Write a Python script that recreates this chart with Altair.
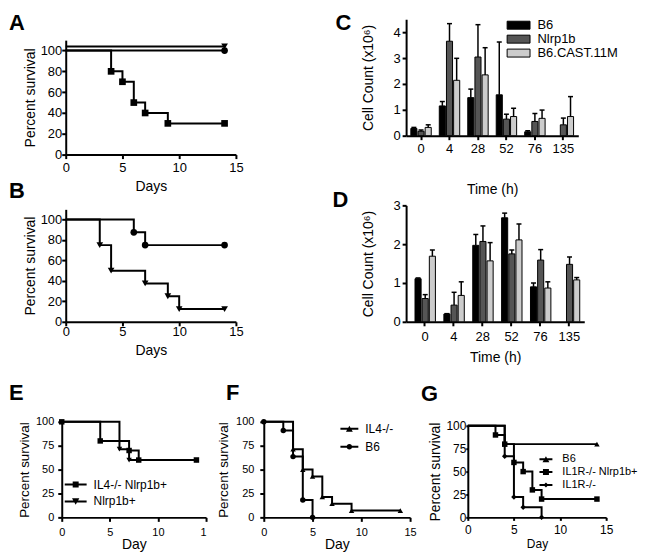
import altair as alt
import pandas as pd

FONT = "Liberation Sans"

# ---------------- data ----------------
# Panel A: percent survival vs days
a_names = ["A-sq", "A-ci", "A-tr"]
a_t1 = [0, 4, 5, 6, 7, 9, 14]
a_s1 = [100, 80, 70, 50, 40, 30, 30]
a_t2 = [0, 14]
a_s2 = [100, 100]
a_t3 = [0, 14]
a_s3 = [104, 104]

# Panel B
b_names = ["B-ci", "B-tr"]
b_t1 = [0, 6, 7, 14]
b_s1 = [100, 87.5, 75, 75]
b_t2 = [0, 3, 4, 7, 9, 10, 14]
b_s2 = [100, 75, 50, 37.5, 25, 12.5, 12.5]

# Panel C / D: cell counts (x10^6)
times = ["0", "4", "28", "52", "76", "135"]
bar_names = ["B6", "Nlrp1b", "B6.CAST.11M"]
bar_colors = ["#000000", "#555555", "#cccccc"]
c_b6 = [0.28, 1.15, 1.47, 1.58, 0.15, None]
c_b6_err = [0.32, 1.32, 1.80, 3.62, 0.19, None]
c_nl = [0.17, 3.65, 3.04, 0.64, 0.55, 0.42]
c_nl_err = [0.22, 4.33, 4.29, 0.83, 0.86, 0.68]
c_ca = [0.32, 2.14, 2.35, 0.74, 0.67, 0.74]
c_ca_err = [0.42, 2.99, 3.40, 1.06, 0.99, 1.51]

d_b6 = [1.11, 0.20, 1.97, 2.68, 0.90, None]
d_b6_err = [1.13, 0.21, 2.25, 2.80, 1.00, None]
d_nl = [0.60, 0.43, 2.07, 1.75, 1.59, 1.48]
d_nl_err = [0.70, 0.76, 2.47, 1.85, 1.86, 1.67]
d_ca = [1.69, 0.68, 1.57, 2.11, 0.87, 1.08]
d_ca_err = [1.85, 1.03, 2.04, 2.52, 1.03, 1.14]

# Panel E
e_names = ["IL4-/- Nlrp1b+", "Nlrp1b+"]
e_t1 = [0, 4, 7, 8, 14]
e_s1 = [100, 80, 70, 60, 60]
e_t2 = [0, 6, 7, 14]
e_s2 = [100, 71.4, 60, 60]

# Panel F
f_names = ["IL4-/-", "B6"]
f_t1 = [0, 3, 4, 5, 6, 7, 9, 14]
f_s1 = [100, 71.4, 50, 42.9, 21.4, 14.3, 7.1, 7.1]
f_t2 = [0, 2, 3, 4, 5]
f_s2 = [100, 90.9, 63.6, 18.2, 0]

# Panel G
g_names = ["B6", "IL1R-/- Nlrp1b+", "IL1R-/-"]
g_t1 = [0, 4, 14]
g_s1 = [100, 80, 80]
g_t2 = [0, 3, 4, 5, 6, 7, 8, 14]
g_s2 = [100, 90, 80, 60, 50, 30, 20, 20]
g_t3 = [0, 4, 5, 6, 8]
g_s3 = [100, 66.7, 22.2, 11.1, 0]


# ---------------- helpers ----------------
def line_path(h):
    return f"M{-h},-1H{h}V1H{-h}Z"


def sq(r):
    return f"M{-r},{-r}H{r}V{r}H{-r}Z"


def tri_down(r):
    a = round(r * 1.15, 2)
    return f"M{-a},{-r}H{a}L0,{r}Z"


def tri_up(r):
    a = round(r * 1.15, 2)
    return f"M{a},{r}H{-a}L0,{-r}Z"


def circ(r):
    return f"M{-r},0A{r},{r} 0 1,1 {r},0A{r},{r} 0 1,1 {-r},0Z"


def diam(r):
    return f"M0,{-r}L{r},0L0,{r}L{-r},0Z"


def letter(ch, dx, dy=0, offset=0):
    return alt.TitleParams(ch, anchor="start", frame="group", orient="top", offset=offset,
                           dx=dx, dy=dy, fontSize=22, fontWeight="bold", font=FONT,
                           color="black", baseline="top")


def axis(title, values, lsize, tsize, tick, lpad, tpad, **kw):
    if values is not None:
        kw["values"] = values
    return alt.Axis(title=title, labelFontSize=lsize, titleFontSize=tsize,
                    tickSize=tick, labelPadding=lpad, titlePadding=tpad, labelFlush=False,
                    labelOverlap=False, grid=False, domainWidth=2, tickWidth=2, **kw)


def surv_df(curves):
    rows = []
    for name, ts, ss, first in curves:
        for i, (t, s) in enumerate(zip(ts, ss)):
            rows.append({"series": name, "t": t, "s": s, "m": bool(i > 0 or first)})
    return pd.DataFrame(rows)


def surv_panel(curves, shapes, msize, width, height, xaxis, yaxis, title,
               ydomain=(0, 100), yrange=None, xrange=None, legend=None):
    df = surv_df(curves)
    names = [c[0] for c in curves]
    ys = dict(domain=list(ydomain), nice=False, zero=False)
    if yrange:
        ys["range"] = yrange
    xs = dict(domain=[0, 15], nice=False)
    if xrange:
        xs["range"] = xrange
    X = alt.X("t:Q", scale=alt.Scale(**xs), axis=xaxis)
    Y = alt.Y("s:Q", scale=alt.Scale(**ys), axis=yaxis)
    base = alt.Chart(df)
    line = base.mark_line(interpolate="step-after", color="black", strokeWidth=2).encode(
        x=X, y=Y, detail="series:N")
    pts = base.transform_filter("datum.m").mark_point(
        filled=True, color="black", opacity=1, size=msize).encode(
        x=X, y=Y,
        shape=alt.Shape("series:N", scale=alt.Scale(domain=names, range=shapes), legend=None))
    layers = [line, pts]
    if legend:
        leg = base.transform_filter("false").mark_point(
            filled=True, color="black", opacity=1, size=4).encode(
            x=X, y=Y,
            shape=alt.Shape("series:N", scale=alt.Scale(domain=names, range=legend["paths"]),
                            legend=alt.Legend(title=None, orient="none", legendX=legend["x"],
                                              legendY=legend["y"], symbolSize=4,
                                              symbolFillColor="black", symbolStrokeWidth=0,
                                              labelFontSize=legend.get("fs", 12),
                                              labelOffset=legend["lo"],
                                              rowPadding=legend["rp"], padding=0,
                                              labelFont=FONT, labelColor="black")))
        layers.append(leg)
    return alt.layer(*layers).resolve_scale(shape="independent").properties(
        width=width, height=height, title=title)


def bar_panel(vals, errs, width, height, ymax, xs, xaxis, yaxis, title, legend=None):
    rows = []
    for name, v, e in zip(bar_names, vals, errs):
        for t, vi, ei in zip(times, v, e):
            if vi is None:
                continue
            rows.append({"time": t, "series": name, "value": vi, "err": ei})
    df = pd.DataFrame(rows)
    X = alt.X("time:N", sort=times, scale=alt.Scale(domain=times, **xs), axis=xaxis)
    XO = alt.XOffset("series:N", sort=bar_names,
                     scale=alt.Scale(domain=bar_names, paddingInner=0.15))
    ysc = alt.Scale(domain=[0, ymax], nice=False)
    base = alt.Chart(df)
    bar = base.mark_bar(stroke="black", strokeWidth=1, opacity=1).encode(
        x=X, xOffset=XO, y=alt.Y("value:Q", scale=ysc, axis=yaxis),
        fill=alt.Fill("series:N", scale=alt.Scale(domain=bar_names, range=bar_colors),
                      legend=legend))
    rule = base.mark_rule(color="black", strokeWidth=1.5).encode(
        x=X, xOffset=XO, y=alt.Y("value:Q", scale=ysc, axis=yaxis), y2="err:Q")
    cap = base.mark_tick(color="black", thickness=1.5, size=5, opacity=1).encode(
        x=X, xOffset=XO, y=alt.Y("err:Q", scale=ysc, axis=yaxis))
    return alt.layer(bar, rule, cap).properties(width=width, height=height, title=title)


# ---------------- panels ----------------
ticks15 = [0, 5, 10, 15]
ticks20 = [0, 20, 40, 60, 80, 100]

A = surv_panel(
    [(a_names[0], a_t1, a_s1, False), (a_names[1], a_t2, a_s2, False),
     (a_names[2], a_t3, a_s3, False)],
    ["square", "circle", "triangle-down"], 45, 175, 136,
    axis("Days", ticks15, 13, 14, 4, 3, 5),
    axis("Percent  survival", ticks20, 13, 14, 4, 0, 3, offset=-4),
    letter("A", -53, dy=15.75), ydomain=(0, 110), yrange=[136, 21], xrange=[4, 175])

B = surv_panel(
    [(b_names[0], b_t1, b_s1, False), (b_names[1], b_t2, b_s2, False)],
    ["circle", "triangle-down"], 45, 175, 113,
    axis("Days", ticks15, 13, 14, 4, 0, 5),
    axis("Percent  survival", ticks20, 13, 14, 4, 0, 3, offset=-4),
    letter("B", -53, offset=6.25), ydomain=(0, 110), xrange=[4, 175])

C = bar_panel(
    [c_b6, c_nl, c_ca], [c_b6_err, c_nl_err, c_ca_err], 173, 117, 4.5,
    dict(paddingInner=0.283, paddingOuter=0.166),
    axis("Time (h)", None, 13, 14, 4, 3, 27, labelAngle=0),
    axis("Cell Count (x10⁶)", [0, 1, 2, 3, 4], 13, 14, 4, 2, 18),
    letter("C", -71, dy=16.25),
    legend=alt.Legend(title=None, orient="none", legendX=106.5, legendY=-0.5,
                      symbolType="M-11.5,-4H11.5V4H-11.5Z", symbolSize=4,
                      symbolStrokeColor="black", symbolStrokeWidth=1, labelFontSize=13,
                      labelOffset=12.5, rowPadding=0, padding=0, labelFont=FONT,
                      labelColor="black"))

D = bar_panel(
    [d_b6, d_nl, d_ca], [d_b6_err, d_nl_err, d_ca_err], 179, 117, 3,
    dict(paddingInner=0.31, paddingOuter=0.241, align=0.64),
    axis("Time (h)", None, 13, 14, 4, 5, 7, labelAngle=0),
    axis("Cell Count (x10⁶)", [0, 1, 2, 3], 13, 14, 4, 2, 18),
    letter("D", -74, dy=12.25), legend=None)

ticks25 = [0, 25, 50, 75, 100]

E = surv_panel(
    [(e_names[0], e_t1, e_s1, True), (e_names[1], e_t2, e_s2, False)],
    ["square", "triangle-down"], 30, 145, 96,
    axis("Day", ticks15, 11, 14, 4, 5, 0,
         labelExpr="datum.value == 15 ? '1' : datum.label",
         labelAlign={"condition": {"test": "datum.value == 15", "value": "right"},
                     "value": "center"}),
    axis("Percent survival", ticks25, 11, 13.5, 4, 4, 4),
    letter("E", -53, offset=10.75),
    legend=dict(paths=[line_path(11) + " " + sq(3), line_path(11) + " " + tri_down(3.2)],
                x=8, y=57, lo=12, rp=5))

F = surv_panel(
    [(f_names[0], f_t1, f_s1, False), (f_names[1], f_t2, f_s2, True)],
    ["triangle-up", "circle"], 30, 147, 96,
    axis("Day", ticks15, 11, 14, 4, 5, 0),
    axis("Percent survival", ticks25, 11, 13.5, 4, 6, 5),
    letter("F", -38, offset=10.75),
    legend=dict(paths=[line_path(9) + " " + tri_up(3), line_path(9) + " " + circ(2.8)],
                x=80, y=1, lo=10, rp=6))

G = surv_panel(
    [(g_names[0], g_t1, g_s1, False), (g_names[1], g_t2, g_s2, False),
     (g_names[2], g_t3, g_s3, False)],
    ["triangle-up", "square", "diamond"], 30, 139, 96,
    axis("Day", ticks15, 12, 12, 3, 4, 3),
    axis("Percent survival", ticks25, 12, 14, 2, 0, 3),
    letter("G", -47, offset=14.25), yrange=[96, 4],
    legend=dict(paths=[line_path(6.5) + " " + tri_up(3), line_path(6.5) + " " + sq(3),
                       line_path(6.5) + " " + diam(2.5)],
                x=73, y=32, lo=11, rp=1, fs=11))

# ---------------- layout ----------------
col1 = alt.vconcat(A, B, spacing=55, bounds="flush")
col2 = alt.vconcat(C, D, spacing=70, bounds="flush").resolve_scale(
    fill="independent").resolve_legend(fill="independent")
top = alt.hconcat(col1, col2, spacing=88, bounds="full")
bottom = alt.hconcat(E, F, G, spacing=58, bounds="flush")

chart = alt.vconcat(top, bottom, spacing=15.5, bounds="full").properties(
    padding={"left": 0, "top": 2, "right": 0, "bottom": 0}
).configure(font=FONT).configure_view(stroke="transparent").configure_axis(
    domainColor="black", tickColor="black", labelColor="black", titleColor="black",
    labelFont=FONT, titleFont=FONT, titleFontWeight="normal"
).configure_legend(labelFont=FONT, labelColor="black")

chart.save("out.html", embed_options={"renderer": "svg", "actions": False})
